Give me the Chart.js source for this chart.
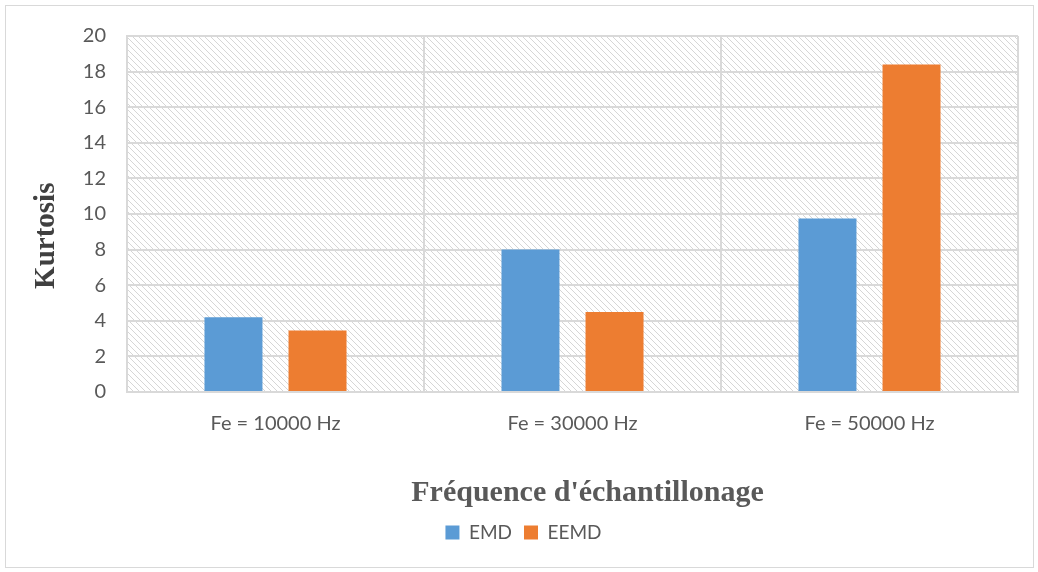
<!DOCTYPE html>
<html>
<head>
<meta charset="utf-8">
<script src="https://cdn.jsdelivr.net/npm/chart.js@4/dist/chart.umd.min.js"></script>
<style>
  html, body { margin: 0; padding: 0; background: #fff; }
  #wrap { position: absolute; left: 5px; top: 5px; width: 1027px; height: 561px; border: 1px solid #d9d9d9; }
  #chart { position: absolute; left: -6px; top: -6px; }
</style>
</head>
<body>
<div id="wrap"><canvas id="chart" width="1038" height="572"></canvas></div>
<script>
// Chart data
const categories = ['Fe = 10000 Hz', 'Fe = 30000 Hz', 'Fe = 50000 Hz'];
const emdValues = [4.2, 8.0, 9.75];
const eemdValues = [3.45, 4.5, 18.4];
const yTicks = [0, 2, 4, 6, 8, 10, 12, 14, 16, 18, 20];

// Hatched background behind the plot area
const hatchBackground = {
    id: 'hatchBackground',
    beforeDraw(chart) {
        const area = chart.chartArea;
        const tile = document.createElement('canvas');
        tile.width = 6;
        tile.height = 6;
        const t = tile.getContext('2d');
        t.fillStyle = '#d6d6d6';
        for (let i = 0; i < 6; i++) {
            t.fillRect(i, i, 1, 1);
        }
        const ctx = chart.ctx;
        ctx.save();
        ctx.fillStyle = ctx.createPattern(tile, 'repeat');
        ctx.fillRect(area.left, area.top, area.right - area.left, area.bottom - area.top);
        ctx.restore();
    }
};

const ctx = document.getElementById('chart').getContext('2d');
new Chart(ctx, {
    type: 'bar',
    data: {
        labels: categories,
        datasets: [
            { label: 'EMD', data: emdValues, backgroundColor: '#5b9bd5' },
            { label: 'EEMD', data: eemdValues, backgroundColor: '#ed7d31' }
        ]
    },
    options: {
        responsive: false,
        animation: false,
        layout: { padding: { left: 29, top: 36, right: 20, bottom: 20 } },
        categoryPercentage: 0.566,
        barPercentage: 0.69,
        plugins: {
            tooltip: { enabled: false },
            legend: {
                position: 'bottom',
                labels: {
                    boxWidth: 14,
                    boxHeight: 14,
                    padding: 12,
                    color: '#595959',
                    font: { family: 'Lato', size: 19 }
                }
            }
        },
        scales: {
            x: {
                grid: { color: '#d9d9d9', lineWidth: 2, offset: true, drawTicks: false },
                border: { color: '#d9d9d9', width: 2 },
                ticks: { color: '#595959', padding: 20, font: { family: 'Lato', size: 20 } },
                title: {
                    display: true,
                    text: "\u00a0\u00a0\u00a0\u00a0Fréquence d'échantillonage",
                    color: '#595959',
                    padding: { top: 40, bottom: 0 },
                    font: { family: 'Liberation Serif', size: 30, weight: 'bold' }
                },
                afterFit: s => { s.height = 119; }
            },
            y: {
                min: 0,
                max: 20,
                afterBuildTicks: s => { s.ticks = yTicks.map(v => ({ value: v })); },
                grid: { color: '#d9d9d9', lineWidth: 2, drawTicks: false },
                border: { color: '#d9d9d9', width: 2 },
                ticks: { color: '#595959', padding: 21, font: { family: 'Lato', size: 20 } },
                title: {
                    display: true,
                    text: 'Kurtosis\u00a0\u00a0\u00a0\u00a0\u00a0\u00a0',
                    color: '#404040',
                    padding: { top: 0, bottom: 20 },
                    font: { family: 'Liberation Serif', size: 29, weight: 'bold' }
                },
                afterFit: s => { s.width = 98; }
            }
        }
    },
    plugins: [hatchBackground]
});
</script>
</body>
</html>
